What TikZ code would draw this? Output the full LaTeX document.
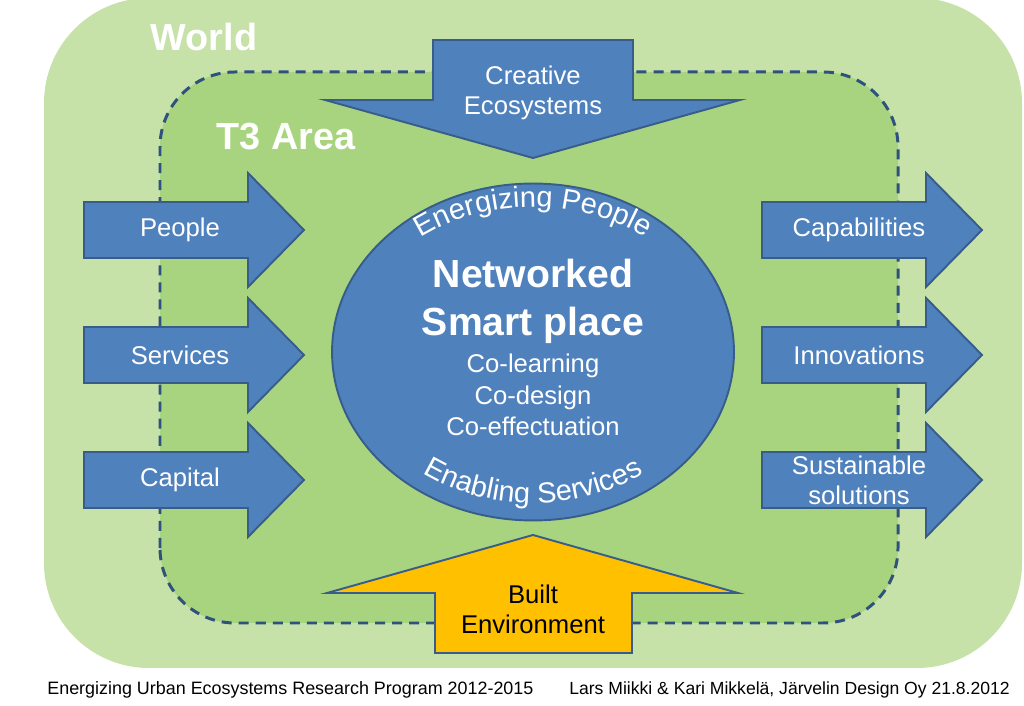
\documentclass[tikz,border=0pt]{standalone}
\usepackage{fontspec}
\setmainfont{Liberation Sans}
\usepackage{xcolor}
\usepackage{tikz}
\usetikzlibrary{shapes.geometric,decorations.text}
\definecolor{worldgreen}{RGB}{198,226,168}
\definecolor{areagreen}{RGB}{169,212,127}
\definecolor{arealine}{RGB}{47,82,125}
\definecolor{arrowblue}{RGB}{79,129,189}
\definecolor{arrowline}{RGB}{56,93,138}
\definecolor{builtyellow}{RGB}{255,192,0}

\begin{document}
\begin{tikzpicture}[
  x=0.02cm, y=0.02cm,
  font=\fontsize{14.6}{17}\selectfont,
  blockarrow/.style={draw=arrowline, line width=1.1pt, fill=arrowblue, line join=miter},
  arrowtext/.style={text=white, align=center, inner sep=0pt},
  heading/.style={text=white, inner sep=0pt, font=\fontsize{21.5}{26}\selectfont\bfseries},
  area/.style={draw=arealine, fill=areagreen, line width=1.7pt, dash pattern=on 5.7pt off 4pt}
]
\useasboundingbox (0,0) rectangle (1024,706);

% world and T3 area
\fill[worldgreen, rounded corners=2.1cm] (44,38) rectangle (1022,708);
\path[area, rounded corners=1.5cm] (160,83) rectangle (898,634);
\node[heading] (world) at (204,669) {World};
\node[heading] (t3) at (286,569) {T3 Area};

% inputs
\foreach \c/\txt/\nm in {476/People/people, 351/Services/services, 226/Capital/capital} {
  \draw[blockarrow] (84,\c+28) -- (248,\c+28) -- (248,\c+57) -- (304,\c) -- (248,\c-57) -- (248,\c-28) -- (84,\c-28) -- cycle;
  \node[arrowtext] (\nm) at (180,\c) {\txt};
}

% outputs
\foreach \c/\txt/\nm in {476/Capabilities/capab, 351/Innovations/innov, 226/{Sustainable\\solutions}/sustain} {
  \draw[blockarrow] (762,\c+28) -- (926,\c+28) -- (926,\c+57) -- (982,\c) -- (926,\c-57) -- (926,\c-28) -- (762,\c-28) -- cycle;
  \node[arrowtext] (\nm) at (859,\c) {\txt};
}

% top and bottom
\draw[blockarrow] (433,666) -- (633,666) -- (633,606) -- (740,606) -- (533,548) -- (325,606) -- (433,606) -- cycle;
\node[arrowtext] (creative) at (533,613) {Creative\\Ecosystems};
\draw[blockarrow, fill=builtyellow] (435,53) -- (632,53) -- (632,113) -- (738,113) -- (533,171) -- (327,113) -- (435,113) -- cycle;
\node[arrowtext, text=black] (built) at (533,97) {Built\\Environment};

% smart place
\node[ellipse, draw=arrowline, line width=1.1pt, fill=arrowblue, minimum width=8.04cm, minimum height=6.74cm] (place) at (533,354) {};
\node[arrowtext, font=\fontsize{22.3}{27.2}\selectfont\bfseries] (title) at (533,405) {Networked\\Smart place};
\node[arrowtext, font=\fontsize{14.6}{18.1}\selectfont] (colist) at (533,311) {Co-learning\\Co-design\\Co-effectuation};
\path[decorate, decoration={text along path, text align=center,
  text={|\fontsize{16.5}{19}\selectfont\color{white}|Energizing People}}]
  (533,354) ++(160:182 and 145) arc[start angle=160, end angle=20, x radius=182, y radius=145];
\path[decorate, decoration={text along path, text align=center,
  text={|\fontsize{16.5}{19}\selectfont\color{white}|Enabling Services}}]
  (533,354) ++(200:186 and 151) arc[start angle=200, end angle=340, x radius=186, y radius=151];

% footer
\node[anchor=base west, inner sep=0pt, font=\fontsize{10.2}{12}\selectfont] (program) at (47,11) {Energizing Urban Ecosystems Research Program 2012-2015};
\node[anchor=base west, inner sep=0pt, font=\fontsize{10}{12}\selectfont] (authors) at (569,11) {Lars Miikki \& Kari Mikkelä, Järvelin Design Oy 21.8.2012};
\end{tikzpicture}
\end{document}
